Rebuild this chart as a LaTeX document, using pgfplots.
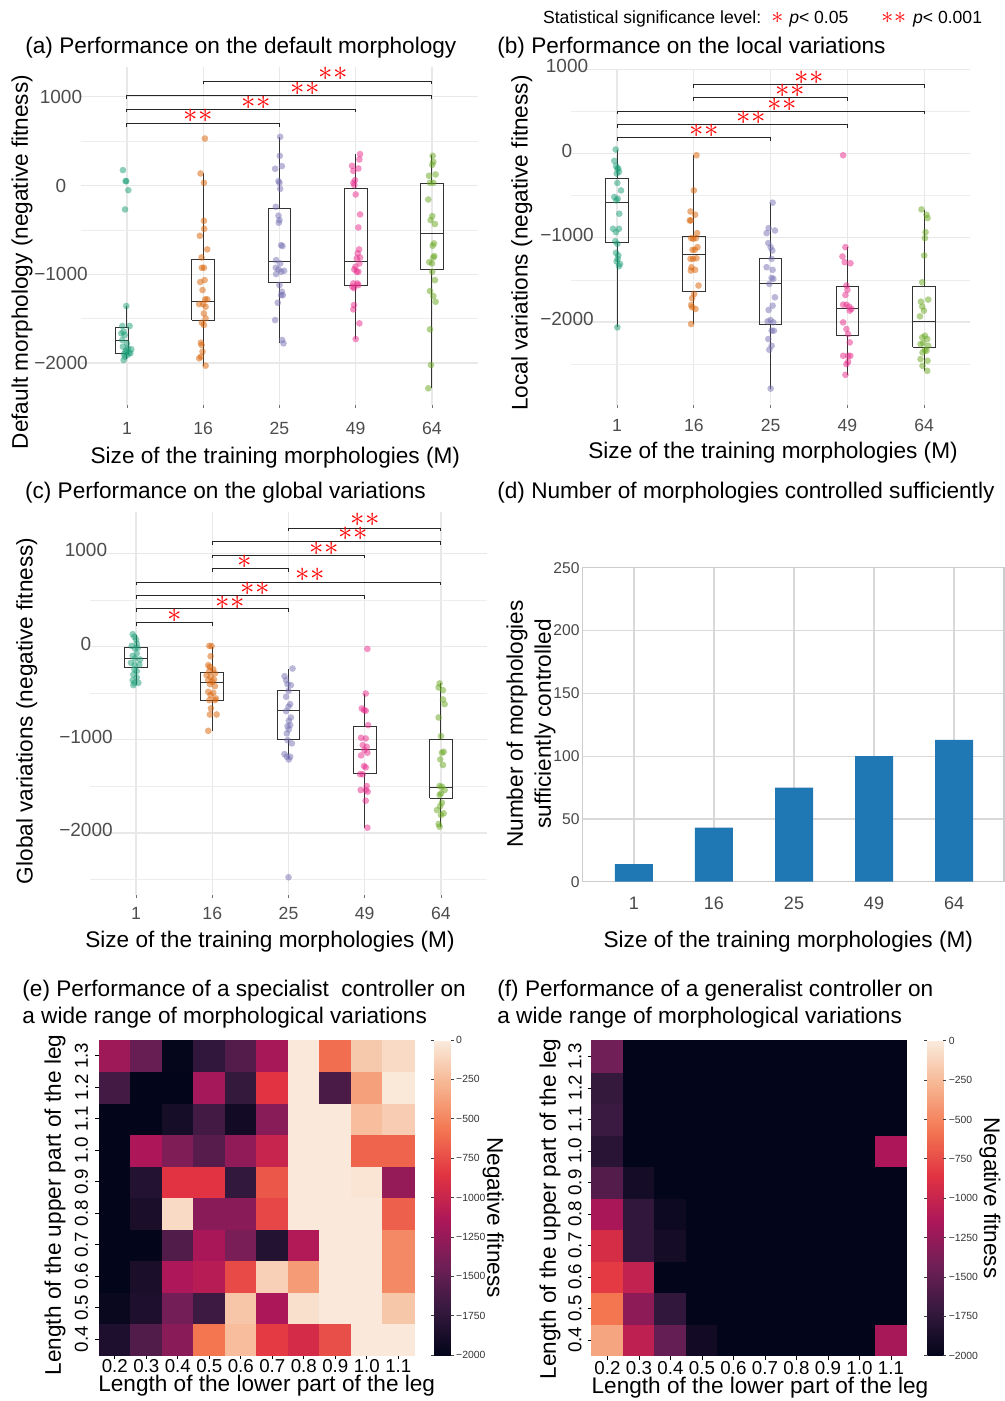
\documentclass[border=0pt]{standalone}
\usepackage{fontspec}
\setmainfont{Liberation Sans}
\usepackage{pgfplots}
\pgfplotsset{compat=1.18}
\definecolor{dA}{HTML}{1B9E77}
\definecolor{dB}{HTML}{D95F02}
\definecolor{dC}{HTML}{7570B3}
\definecolor{dD}{HTML}{E7298A}
\definecolor{dE}{HTML}{66A61E}
\definecolor{barblue}{HTML}{1F77B4}
\newcommand\fT{\fontsize{11.3}{13.5}\selectfont}
\newcommand\sig[3]{\node[text=red,font=\fontsize{14}{14}\selectfont,inner sep=0pt] at (axis cs:#1,#2) {#3};}
\newcommand\one{$\ast$}
\newcommand\two{$\ast$\kern0.3pt$\ast$}
% box: center, left, right, lower whisker, q1, median, q3, upper whisker
\newcommand\bx[8]{%
 \addplot[box] coordinates {(#2,#5) (#3,#5) (#3,#7) (#2,#7) (#2,#5)};
 \addplot[box] coordinates {(#2,#6) (#3,#6)};
 \addplot[box] coordinates {(#1,#7) (#1,#8)};
 \addplot[box] coordinates {(#1,#5) (#1,#4)};}
\pgfplotsset{
  colormap={rocket}{rgb255=(3,5,26) rgb255=(53,25,62) rgb255=(112,31,87) rgb255=(173,23,89) rgb255=(225,51,66) rgb255=(243,118,81) rgb255=(246,180,143) rgb255=(250,235,221)},
  ggpanel/.style={
    scale only axis, anchor=north west, clip=false,
    axis line style={draw=none},
    xtick={0,1,2,3,4}, xticklabels={1,16,25,49,64},
    ytick={-2000,-1000,0,1000}, yticklabels={−2000,−1000,0,1000},
    minor ytick={-2500,-1500,-500,500},
    xmajorgrids, ymajorgrids, yminorgrids,
    major grid style={line width=0.55pt, draw=black!9},
    minor grid style={line width=0.35pt, draw=black!7},
    xtick pos=bottom, ytick pos=left,
    tick align=outside, major tick length=1.5pt, minor tick length=0pt,
    ytick style={draw=none}, xtick style={draw=black!55, line width=0.4pt},
    xticklabel style={font=\fontsize{8.8}{9}\selectfont, text=black!70, anchor=center},
    yticklabel style={font=\fontsize{9.5}{10}\selectfont, text=black!70, anchor=center},
  },
  box/.style={draw=black!80, line width=0.5pt, solid, mark=none},
  brk/.style={draw=black!85, line width=0.5pt, mark=none},
  pts/.style={only marks, mark=*, mark size=1.67pt, color=#1, mark options={fill=#1, fill opacity=0.5, draw opacity=0}},
  heat/.style={
    scale only axis, anchor=north west, width=157.5pt, height=157.5pt, clip=false,
    enlargelimits=false, xmin=-0.5, xmax=9.5, ymin=-0.5, ymax=9.5,
    axis line style={draw=none},
    xtick={0,...,9}, xticklabels={0.2,0.3,0.4,0.5,0.6,0.7,0.8,0.9,1.0,1.1},
    ytick={0,...,9}, yticklabels={0.4,0.5,0.6,0.7,0.8,0.9,1.0,1.1,1.2,1.3},
    xtick pos=bottom, ytick pos=left, tick align=outside, major tick length=2pt,
    tick style={draw=black, line width=0.4pt},
    colormap name=rocket, point meta min=-2000, point meta max=0,
  },
  cbar/.style={
    axis line style={draw=none}, ytick={-2000,-1750,-1500,-1250,-1000,-750,-500,-250,0},
    yticklabels={−2000,−1750,−1500,−1250,−1000,−750,−500,−250,0},
    yticklabel style={font=\fontsize{5.2}{5.5}\selectfont, text=black!80, inner sep=1pt},
    ytick style={draw=black!75, line width=0.35pt}, major tick length=1.5pt, tick align=outside},
}
\begin{document}
\begin{tikzpicture}
\useasboundingbox (0,0) rectangle (502.5pt,-700.5pt);
% legend
\node[anchor=west, font=\fontsize{8.8}{9}\selectfont, inner sep=0pt] at (271.35pt,-9.3pt)
 {Statistical significance level:\hspace{5pt}{\color{red}\fontsize{13}{13}\selectfont\one}\hspace{3pt}\textit{p}< 0.05\hspace{16.5pt}{\color{red}\fontsize{13}{13}\selectfont\two}\hspace{3.5pt}\textit{p}< 0.001};

%================ (a)
\begin{axis}[ggpanel, at={(40.5pt,-33.35pt)}, width=198.35pt, height=169.15pt,
  xmin=-0.603, xmax=4.6, ymin=-2473, ymax=1338,
  xticklabel style={yshift=-10pt}, yticklabel style={xshift=-8.5pt},
  title={(a) Performance on the default morphology},
  every axis title/.style={at={(axis description cs:-0.1412,1.0642)}, anchor=west, inner sep=0pt, yshift=-1.5pt, font=\fT},
  xlabel={Size of the training morphologies (M)},
  every axis x label/.style={at={(axis description cs:0.4898,-0.1546)}, anchor=center, inner sep=0pt, font=\fT},
  ylabel={Default morphology (negative fitness)},
  every axis y label/.style={at={(axis description cs:-0.1487,0.4227)}, rotate=90, anchor=center, inner sep=0pt, font=\fT},
]
\bx{0}{-0.153}{0.022}{-1950}{-1891}{-1741}{-1602}{-1358}
\bx{1}{0.852}{1.148}{-2030}{-1520}{-1306}{-837}{135}
\bx{2}{1.852}{2.148}{-1779}{-1092}{-859}{-263}{548}
\bx{3}{2.852}{3.148}{-1730}{-1126}{-856}{-34}{353}
\bx{4}{3.852}{4.148}{-2285}{-949}{-540}{26}{341}
\addplot[pts=dA] table {
-0.053 173
-0.018 49
-0.009 49
0.018 -53
-0.026 -270
-0.009 -1358
-0.061 -1583
0.035 -1583
-0.044 -1647
-0.074 -1666
-0.031 -1685
-0.061 -1741
0 -1779
-0.053 -1816
0.013 -1835
0.057 -1846
-0.018 -1872
0.026 -1884
-0.039 -1899
0.004 -1910
-0.026 -1929
-0.044 -1966
0.044 -1891
-0.009 -1854
};
\addplot[pts=dB] table {
1.022 529
0.965 135
1.009 30
1.009 -398
1.013 -488
0.956 -567
1.053 -720
0.978 -811
0.982 -927
1.009 -927
1.018 -1066
0.961 -1088
0.991 -1178
1.026 -1283
1.053 -1283
0.947 -1336
1.0 -1336
1.031 -1366
1.009 -1441
1.031 -1497
0.982 -1546
1.009 -1572
0.969 -1771
0.978 -1797
0.991 -1872
0.947 -1947
0.969 -1929
1.031 -2030
};
\addplot[pts=dC] table {
2.009 548
2.004 334
2.031 218
1.943 188
1.987 49
2.0 30
2.009 -38
1.952 -240
1.987 -341
2.0 -390
1.991 -420
2.022 -672
2.039 -683
1.956 -841
2.009 -878
1.952 -927
1.987 -946
2.061 -961
2.022 -972
1.956 -998
2.0 -1122
2.031 -1197
2.022 -1235
2.044 -1235
1.978 -1321
1.943 -1516
2.035 -1741
2.053 -1779
};
\addplot[pts=dD] table {
3.057 353
3.048 293
2.952 221
3.035 191
2.969 165
2.991 60
2.969 30
2.982 4
3.0 -101
3.057 -326
3.035 -473
3.044 -720
3.026 -765
3.013 -822
3.057 -811
2.996 -916
3.048 -878
2.982 -946
3.013 -972
3.035 -972
2.969 -1103
3.022 -1103
2.956 -1141
3.035 -1122
2.978 -1156
2.978 -1347
2.969 -1396
3.048 -1553
3.0 -1730
};
\addplot[pts=dE] table {
4.009 334
4.018 266
4.004 233
4.048 124
3.961 109
3.974 30
4.018 30
3.952 -158
4.004 -345
3.982 -390
4.039 -435
4.026 -653
4.009 -679
4.031 -795
4.018 -811
3.965 -863
4.0 -878
4.004 -972
4.039 -1066
3.974 -1189
4.018 -1246
4.048 -1310
3.974 -1621
3.987 -2023
3.952 -2285
};
\addplot[brk] coordinates {(0,664) (0,698) (2,698) (2,664)};
\addplot[brk] coordinates {(0,825) (0,859) (3,859) (3,825)};
\addplot[brk] coordinates {(0,975) (0,1009) (4,1009) (4,975)};
\addplot[brk] coordinates {(1,1140) (1,1174) (4,1174) (4,1140)};
\sig{0.93}{780}{\two}
\sig{1.70}{931}{\two}
\sig{2.34}{1092}{\two}
\sig{2.70}{1253}{\two}
\end{axis}

%================ (b)
\begin{axis}[ggpanel, at={(285.5pt,-34.5pt)}, width=199.5pt, height=168pt,
  xmin=-0.599, xmax=4.596, ymin=-2985, ymax=1004,
  xticklabel style={yshift=-8.5pt}, yticklabel style={xshift=-0.5pt, yshift=1.5pt},
  title={(b) Performance on the local variations},
  every axis title/.style={at={(axis description cs:-0.1855,1.0714)}, anchor=west, inner sep=0pt, yshift=-1.5pt, font=\fT},
  xlabel={Size of the training morphologies (M)},
  every axis x label/.style={at={(axis description cs:0.5063,-0.1429)}, anchor=center, inner sep=0pt, font=\fT},
  ylabel={Local variations (negative fitness)},
  every axis y label/.style={at={(axis description cs:-0.1236,0.4821)}, rotate=90, anchor=center, inner sep=0pt, font=\fT},
]
\bx{0}{-0.148}{0.148}{-2063}{-1056}{-583}{-294}{48}
\bx{1}{0.852}{1.148}{-2024}{-1639}{-1198}{-980}{-20}
\bx{2}{1.852}{2.148}{-2790}{-2032}{-1548}{-1250}{-583}
\bx{3}{2.852}{3.148}{-2627}{-2163}{-1845}{-1579}{-1111}
\bx{4}{3.852}{4.148}{-2579}{-2298}{-1996}{-1575}{-667}
\addplot[pts=dA] table {
-0.017 48
-0.035 -87
-0.013 -147
0.004 -179
0.017 -179
-0.004 -238
0.026 -218
0.004 -349
0.052 -437
-0.035 -516
0.009 -536
-0.009 -556
0.030 -714
-0.052 -893
0.026 -893
-0.013 -933
-0.022 -1040
0.004 -1071
-0.013 -1179
0.017 -1210
0.009 -1250
-0.004 -1282
0.039 -1310
0.026 -1337
0.004 -2063
};
\addplot[pts=dB] table {
1.035 -20
1.0 -437
0.957 -687
1.017 -726
0.961 -794
0.948 -794
1.043 -944
0.965 -1004
0.991 -1012
1.026 -1004
0.983 -1143
1.013 -1143
1.048 -1111
0.957 -1250
0.991 -1250
1.035 -1242
0.970 -1349
0.961 -1389
1.017 -1381
1.061 -1567
1.004 -1667
0.978 -1718
0.965 -1798
0.978 -1825
1.022 -1845
0.965 -2024
};
\addplot[pts=dC] table {
2.026 -583
1.974 -885
2.056 -913
1.948 -944
1.970 -1063
2.0 -1111
2.022 -1151
2.013 -1250
1.948 -1349
2.026 -1381
2.013 -1476
2.035 -1488
1.983 -1548
2.056 -1706
2.026 -1806
1.974 -1857
2.0 -1976
1.961 -1992
2.035 -2004
2.013 -2103
2.043 -2103
1.970 -2202
2.013 -2282
1.983 -2329
2.0 -2790
};
\addplot[pts=dD] table {
2.944 -20
2.974 -1111
2.935 -1222
2.965 -1290
3.039 -1302
2.987 -1567
3.0 -1619
2.974 -1679
2.944 -1794
2.987 -1794
3.022 -1817
3.052 -1845
3.030 -1865
2.944 -2004
2.987 -2083
3.009 -2143
3.030 -2242
3.009 -2401
2.944 -2401
3.039 -2401
3.009 -2472
2.987 -2500
2.974 -2627
};
\addplot[pts=dE] table {
3.965 -663
4.030 -726
4.043 -766
4.017 -933
4.009 -1004
4.0 -1210
3.974 -1528
4.052 -1734
3.957 -1758
3.974 -1817
3.996 -1865
3.944 -1933
4.009 -2163
3.974 -2183
4.039 -2202
3.987 -2250
3.952 -2262
4.052 -2282
4.009 -2333
3.978 -2361
4.030 -2341
3.952 -2440
4.043 -2460
3.978 -2520
4.039 -2579
};
\addplot[brk] coordinates {(0,154) (0,190) (2,190) (2,154)};
\addplot[brk] coordinates {(0,309) (0,345) (3,345) (3,309)};
\addplot[brk] coordinates {(0,468) (0,504) (4,504) (4,468)};
\addplot[brk] coordinates {(1,627) (1,663) (3,663) (3,627)};
\addplot[brk] coordinates {(1,781) (1,817) (4,817) (4,781)};
\sig{1.13}{270}{\two}
\sig{1.75}{425}{\two}
\sig{2.15}{575}{\two}
\sig{2.25}{746}{\two}
\sig{2.5}{905}{\two}
\end{axis}

%================ (c)
\begin{axis}[ggpanel, at={(45pt,-255.85pt)}, width=198.35pt, height=191.65pt,
  xmin=-0.604, xmax=4.60, ymin=-2665, ymax=1446,
  xticklabel style={yshift=-7.8pt}, yticklabel style={xshift=-0.5pt, yshift=1.5pt},
  title={(c) Performance on the global variations},
  every axis title/.style={at={(axis description cs:-0.1646,1.0566)}, anchor=west, inner sep=0pt, yshift=-1.5pt, font=\fT},
  xlabel={Size of the training morphologies (M)},
  every axis x label/.style={at={(axis description cs:0.4537,-0.1218)}, anchor=center, inner sep=0pt, font=\fT},
  ylabel={Global variations (negative fitness)},
  every axis y label/.style={at={(axis description cs:-0.1596,0.4806)}, rotate=90, anchor=center, inner sep=0pt, font=\fT},
]
\bx{0}{-0.15}{0.15}{-414}{-229}{-132}{-14}{121}
\bx{1}{0.85}{1.15}{-904}{-579}{-386}{-279}{0}
\bx{2}{1.85}{2.15}{-1211}{-993}{-689}{-475}{-236}
\bx{3}{2.85}{3.15}{-1943}{-1357}{-1104}{-857}{-504}
\bx{4}{3.85}{4.15}{-1932}{-1629}{-1511}{-1000}{-396}
\addplot[pts=dA] table {
-0.044 132
-0.022 104
0 75
0.009 32
-0.057 7
-0.013 -21
0.022 -14
0.009 -75
-0.044 -100
-0.013 -129
0.053 -139
-0.066 -175
-0.018 -200
0.044 -193
-0.022 -246
0.009 -264
-0.035 -300
0.009 -332
-0.044 -361
-0.022 -389
0.031 -389
-0.035 -414
};
\addplot[pts=dB] table {
0.961 7
0.991 4
0.978 -104
0.947 -200
0.969 -218
1.013 -246
0.961 -264
1.035 -289
0.926 -307
0.978 -325
1.022 -354
0.947 -361
1.0 -379
0.969 -404
1.035 -425
0.947 -486
1.013 -496
0.978 -521
1.048 -557
0.961 -575
1.035 -575
0.982 -664
0.969 -729
1.057 -729
0.947 -904
};
\addplot[pts=dC] table {
2.053 -236
1.947 -318
1.969 -361
2.031 -414
1.987 -404
2.0 -475
1.969 -539
2.022 -618
2.0 -646
1.969 -693
2.031 -761
2.004 -796
1.987 -854
2.022 -843
2.004 -889
1.978 -932
1.987 -1004
2.044 -1039
1.947 -1154
1.978 -1182
2.022 -1182
2.004 -1211
2.0 -2475
};
\addplot[pts=dD] table {
3.035 -25
3.013 -504
2.961 -664
2.991 -682
3.013 -689
3.044 -843
2.952 -979
3.013 -986
2.974 -1057
3.026 -1075
2.996 -1111
2.952 -1168
3.035 -1139
2.991 -1282
3.013 -1296
2.939 -1368
2.974 -1371
3.026 -1496
2.947 -1539
3.013 -1539
3.039 -1557
3.013 -1654
3.035 -1943
};
\addplot[pts=dE] table {
3.982 -396
3.969 -439
4.026 -468
4.026 -568
4.048 -618
3.969 -761
4.0 -961
4.013 -1139
4.035 -1129
3.991 -1211
4.026 -1271
3.982 -1496
4.013 -1504
4.048 -1539
4.0 -1575
3.982 -1593
4.013 -1675
3.991 -1711
3.948 -1754
4.035 -1789
4.0 -1807
3.982 -1932
3.969 -1904
};
\addplot[brk] coordinates {(0,225) (0,257) (1,257) (1,225)};
\addplot[brk] coordinates {(0,372) (0,404) (2,404) (2,372)};
\addplot[brk] coordinates {(0,514) (0,546) (3,546) (3,514)};
\addplot[brk] coordinates {(0,657) (0,689) (4,689) (4,657)};
\addplot[brk] coordinates {(1,800) (1,832) (2,832) (2,800)};
\addplot[brk] coordinates {(1,947) (1,979) (3,979) (3,947)};
\addplot[brk] coordinates {(1,1093) (1,1125) (4,1125) (4,1093)};
\addplot[brk] coordinates {(2,1236) (2,1268) (4,1268) (4,1236)};
\sig{0.51}{325}{\one}
\sig{1.23}{471}{\two}
\sig{1.56}{618}{\two}
\sig{2.28}{764}{\two}
\sig{1.43}{907}{\one}
\sig{2.47}{1046}{\two}
\sig{2.85}{1204}{\two}
\sig{3.0}{1354}{\two}
\end{axis}

%================ (d)
\begin{axis}[at={(291.15pt,-283.85pt)}, anchor=north west, scale only axis, width=210.85pt, height=157pt, clip=false,
  xmin=-0.646, xmax=4.625, ymin=0, ymax=250,
  xtick={0,1,2,3,4}, xticklabels={1,16,25,49,64},
  ytick={0,50,100,150,200,250}, yticklabels={0,50,100,150,200,250},
  xmajorgrids, ymajorgrids, major grid style={draw=black!15, line width=0.6pt},
  axis line style={draw=black!20, line width=0.6pt},
  tick style={draw=none},
  xticklabel style={font=\fontsize{9}{9}\selectfont, text=black!72, anchor=center, yshift=-11pt},
  yticklabel style={font=\fontsize{7.8}{8}\selectfont, text=black!72, anchor=east, inner sep=0pt, xshift=-1.2pt},
  title={(d) Number of morphologies controlled sufficiently},
  every axis title/.style={at={(axis description cs:-0.2023,1.2474)}, anchor=west, inner sep=0pt, yshift=-1.5pt, font=\fT},
  xlabel={Size of the training morphologies (M)},
  every axis x label/.style={at={(axis description cs:0.4885,-0.1911)}, anchor=center, inner sep=0pt, font=\fT},
  ylabel={Number of morphologies\\sufficiently controlled},
  every axis y label/.style={at={(axis description cs:-0.1217,0.5022)}, rotate=90, anchor=center, inner sep=0pt, align=center, font=\fontsize{11.3}{14}\selectfont},
]
\addplot[ybar, bar width=19pt, fill=barblue, draw=none] coordinates {(0,14) (1,43) (2,75) (3,100) (4,113)};
\end{axis}

%================ (e)
\begin{axis}[heat, at={(49.5pt,-520pt)},
  xticklabel style={font=\fontsize{9.35}{10}\selectfont, anchor=center, yshift=-3.6pt},
  yticklabel style={font=\fontsize{9.35}{10}\selectfont, xshift=-6.75pt, rotate=90, anchor=center},
  title={(e) Performance of a specialist\ \ controller on\\a wide range of morphological variations},
  every axis title/.style={at={(axis description cs:-0.2444,1.1222)}, anchor=west, inner sep=0pt, yshift=-1.5pt, align=left, font=\fT},
  xlabel={Length of the lower part of the leg},
  every axis x label/.style={at={(axis description cs:0.5324,-0.0985)}, anchor=center, inner sep=0pt, font=\fT},
  ylabel={Length of the upper part of the leg},
  every axis y label/.style={at={(axis description cs:-0.1397,0.4762)}, rotate=90, anchor=center, inner sep=0pt, font=\fT},
  colorbar,
  colorbar style={at={(parent axis.north east)}, anchor=north west, xshift=1.5pt, scale only axis, width=8.35pt, height=157.5pt, cbar},
]
\addplot[matrix plot*, mesh/cols=10, mesh/rows=10, point meta=explicit] coordinates {
(0,0)[-1850] (1,0)[-1580] (2,0)[-1310] (3,0)[-571] (4,0)[-240] (5,0)[-830] (6,0)[-930] (7,0)[-740] (8,0)[-10] (9,0)[-10]
(0,1)[-1960] (1,1)[-1850] (2,1)[-1410] (3,1)[-1680] (4,1)[-200] (5,1)[-1150] (6,1)[-60] (7,1)[-10] (8,1)[-10] (9,1)[-190]
(0,2)[-2000] (1,2)[-1870] (2,2)[-1140] (3,2)[-1090] (4,2)[-760] (5,2)[-140] (6,2)[-400] (7,2)[-10] (8,2)[-10] (9,2)[-480]
(0,3)[-2000] (1,3)[-2000] (2,3)[-1580] (3,3)[-1160] (4,3)[-1380] (5,3)[-1820] (6,3)[-1120] (7,3)[-10] (8,3)[-10] (9,3)[-480]
(0,4)[-2000] (1,4)[-1870] (2,4)[-90] (3,4)[-1310] (4,4)[-1310] (5,4)[-770] (6,4)[-10] (7,4)[-10] (8,4)[-10] (9,4)[-660]
(0,5)[-2000] (1,5)[-1820] (2,5)[-860] (3,5)[-860] (4,5)[-1730] (5,5)[-700] (6,5)[-10] (7,5)[-10] (8,5)[-30] (9,5)[-1260]
(0,6)[-2000] (1,6)[-1143] (2,6)[-1360] (3,6)[-1550] (4,6)[-1280] (5,6)[-1000] (6,6)[-10] (7,6)[-10] (8,6)[-650] (9,6)[-650]
(0,7)[-2000] (1,7)[-2000] (2,7)[-1890] (3,7)[-1650] (4,7)[-1910] (5,7)[-1320] (6,7)[-10] (7,7)[-10] (8,7)[-240] (9,7)[-160]
(0,8)[-1650] (1,8)[-2000] (2,8)[-2000] (3,8)[-1180] (4,8)[-1720] (5,8)[-860] (6,8)[-10] (7,8)[-1610] (8,8)[-380] (9,8)[-15]
(0,9)[-1220] (1,9)[-1470] (2,9)[-1990] (3,9)[-1740] (4,9)[-1570] (5,9)[-1170] (6,9)[-10] (7,9)[-600] (8,9)[-180] (9,9)[-90]
};
\node[rotate=-90, font=\fT, inner sep=0pt] at (axis description cs:1.2517,0.4365) {Negative fitness};
\end{axis}

%================ (f)
\begin{axis}[heat, at={(295.85pt,-520.35pt)},
  xticklabel style={font=\fontsize{9.35}{10}\selectfont, anchor=center, yshift=-4.1pt},
  yticklabel style={font=\fontsize{9.35}{10}\selectfont, xshift=-6.35pt, rotate=90, anchor=center},
  title={(f) Performance of a generalist controller on\\a wide range of morphological variations},
  every axis title/.style={at={(axis description cs:-0.3006,1.1244)}, anchor=west, inner sep=0pt, yshift=-1.5pt, align=left, font=\fT},
  xlabel={Length of the lower part of the leg},
  every axis x label/.style={at={(axis description cs:0.5343,-0.1025)}, anchor=center, inner sep=0pt, font=\fT},
  ylabel={Length of the upper part of the leg},
  every axis y label/.style={at={(axis description cs:-0.1324,0.4657)}, rotate=90, anchor=center, inner sep=0pt, font=\fT},
  colorbar,
  colorbar style={at={(parent axis.north east)}, anchor=north west, xshift=1.8pt, scale only axis, width=8pt, height=157.5pt, cbar},
]
\addplot[matrix plot*, mesh/cols=10, mesh/rows=10, point meta=explicit] coordinates {
(0,0)[-350] (1,0)[-1050] (2,0)[-1480] (3,0)[-1910] (4,0)[-2000] (5,0)[-2000] (6,0)[-2000] (7,0)[-2000] (8,0)[-2000] (9,0)[-1170]
(0,1)[-571] (1,1)[-1300] (2,1)[-1740] (3,1)[-2000] (4,1)[-2000] (5,1)[-2000] (6,1)[-2000] (7,1)[-2000] (8,1)[-2000] (9,1)[-2000]
(0,2)[-830] (1,2)[-1030] (2,2)[-2000] (3,2)[-2000] (4,2)[-2000] (5,2)[-2000] (6,2)[-2000] (7,2)[-2000] (8,2)[-2000] (9,2)[-2000]
(0,3)[-920] (1,3)[-1740] (2,3)[-1900] (3,3)[-2000] (4,3)[-2000] (5,3)[-2000] (6,3)[-2000] (7,3)[-2000] (8,3)[-2000] (9,3)[-2000]
(0,4)[-1160] (1,4)[-1740] (2,4)[-1940] (3,4)[-2000] (4,4)[-2000] (5,4)[-2000] (6,4)[-2000] (7,4)[-2000] (8,4)[-2000] (9,4)[-2000]
(0,5)[-1570] (1,5)[-1900] (2,5)[-2000] (3,5)[-2000] (4,5)[-2000] (5,5)[-2000] (6,5)[-2000] (7,5)[-2000] (8,5)[-2000] (9,5)[-2000]
(0,6)[-1780] (1,6)[-2000] (2,6)[-2000] (3,6)[-2000] (4,6)[-2000] (5,6)[-2000] (6,6)[-2000] (7,6)[-2000] (8,6)[-2000] (9,6)[-1145]
(0,7)[-1690] (1,7)[-2000] (2,7)[-2000] (3,7)[-2000] (4,7)[-2000] (5,7)[-2000] (6,7)[-2000] (7,7)[-2000] (8,7)[-2000] (9,7)[-2000]
(0,8)[-1720] (1,8)[-2000] (2,8)[-2000] (3,8)[-2000] (4,8)[-2000] (5,8)[-2000] (6,8)[-2000] (7,8)[-2000] (8,8)[-2000] (9,8)[-2000]
(0,9)[-1429] (1,9)[-2000] (2,9)[-2000] (3,9)[-2000] (4,9)[-2000] (5,9)[-2000] (6,9)[-2000] (7,9)[-2000] (8,9)[-2000] (9,9)[-2000]
};
\node[rotate=-90, font=\fT, inner sep=0pt] at (axis description cs:1.2644,0.5006) {Negative fitness};
\end{axis}
\end{tikzpicture}
\end{document}
